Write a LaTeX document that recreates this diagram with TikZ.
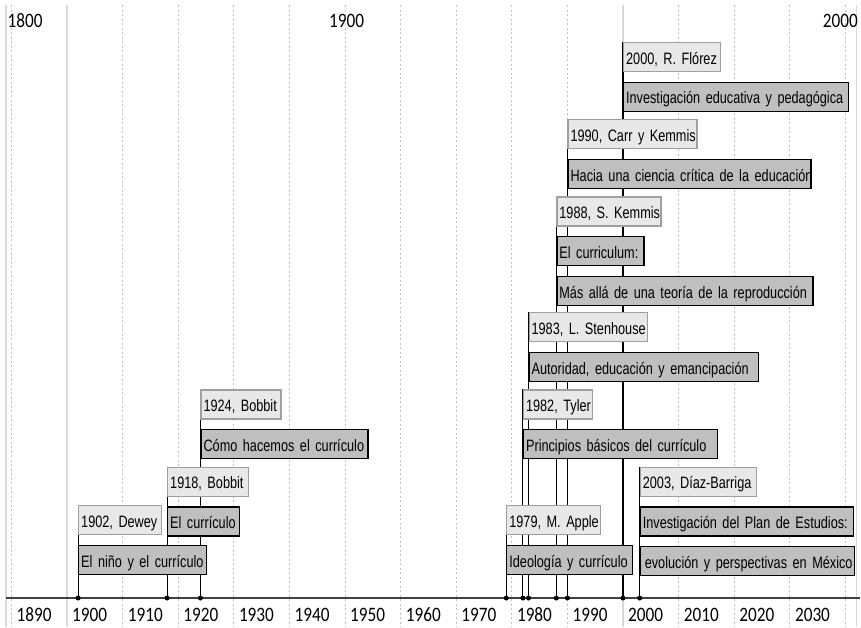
\documentclass[tikz,border=0pt]{standalone}
\usepackage{fontspec}
\newfontfamily\boxfont{Liberation Sans}[FakeStretch=0.77]
\newfontfamily\axisfont{Carlito}[FakeStretch=0.84]
\usetikzlibrary{positioning}
\pgfdeclarelayer{bg}
\pgfsetlayers{bg,main}

\begin{document}
\begin{tikzpicture}[
  x=5.56pt, y=-1pt,
  shift={(-10497pt,0pt)},
  node distance=9.6pt,
  every node/.style={font=\boxfont\fontsize{16.5}{19}\selectfont},
  gridline/.style={gray!50, dash pattern=on 2pt off 2.5pt, line width=0.9pt},
  frameline/.style={gray!30, line width=1.5pt},
  axisline/.style={black!75, line width=1.8pt},
  stem/.style={black, line width=1.1pt},
  dot/.style={circle, fill=black, inner sep=0pt, minimum size=5pt},
  who/.style={
    draw=gray!75,
    fill=gray!18,
    line width=1.2pt,
    anchor=north west,
    minimum height=29pt,
    inner xsep=2.5pt,
    inner ysep=0pt,
    text width=#1,
    align=left,
    text height=15pt,
    text depth=1pt,
    execute at begin node={\hbox\bgroup},
    execute at end node={\egroup}
  },
  book/.style={who=#1, draw=black, fill=gray!50},
  yearlbl/.style={font=\axisfont\fontsize{20.5}{24}\selectfont, inner sep=0pt}
]
\useasboundingbox (1887.95,0) rectangle (2042.8,627);

% top labels
\node[yearlbl, anchor=base west] (c1800) at (1889.3,27) {1800};
\node[yearlbl, anchor=base west] (c1900) at (1947.1,27) {1900};
\node[yearlbl, anchor=base east] (c2000) at (2042.25,27) {2000};

% authors and books
\node[who=92pt] (l2000) at (2000,42) {2000, R. Flórez};
\node[book=220pt, below=of l2000.south west, anchor=north west] (b2000) {Investigación educativa y pedagógica};

\node[who=124pt] (l1990) at (1990,119.2) {1990, Carr y Kemmis};
\node[book=238pt, below=of l1990.south west, anchor=north west] (b1990) {Hacia una ciencia crítica de la educación};

\node[who=99pt] (l1988) at (1988,196.4) {1988, S. Kemmis};
\node[book=82pt, below=of l1988.south west, anchor=north west] (b1988a) {El curriculum:};
\node[book=251pt, below=of b1988a.south west, anchor=north west] (b1988b) {Más allá de una teoría de la reproducción};

\node[who=113pt] (l1983) at (1983,312.2) {1983, L. Stenhouse};
\node[book=224pt, below=of l1983.south west, anchor=north west] (b1983) {Autoridad, educación y emancipación};

\node[who=75pt] (l1924) at (1924,389.4) {1924, Bobbit};
\node[book=162pt, below=of l1924.south west, anchor=north west] (b1924) {Cómo hacemos el currículo};

\node[who=64pt] (l1982) at (1982,389.4) {1982, Tyler};
\node[book=189pt, below=of l1982.south west, anchor=north west] (b1982) {Principios básicos del currículo};

\node[who=76pt] (l1918) at (1918,466.6) {1918, Bobbit};
\node[book=67pt, below=of l1918.south west, anchor=north west] (b1918) {El currículo};

\node[who=111pt] (l2003) at (2003,466.6) {2003, Díaz-Barriga};
\node[book=208pt, below=of l2003.south west, anchor=north west] (b2003a) {Investigación del Plan de Estudios:};
\node[book=209pt, below=of b2003a.south west, anchor=north west] (b2003b) {\hspace{2pt}evolución y perspectivas en México};

\node[who=78pt] (l1902) at (1902,505.2) {1902, Dewey};
\node[book=123pt, below=of l1902.south west, anchor=north west] (b1902) {El niño y el currículo};

\node[who=89pt] (l1979) at (1979,505.2) {1979, M. Apple};
\node[book=121pt, below=of l1979.south west, anchor=north west] (b1979) {Ideología y currículo};

% axis
\draw[axisline] (1889,598) -- (2042.6,598);
\foreach \yr in {1902,1918,1924,1979,1982,1983,1988,1990,2000,2003}
  \node[dot] (d\yr) at (\yr,598) {};
\foreach \yr in {1890,1900,...,2030}
  \node[yearlbl, anchor=base west] (y\yr) at (\yr+0.9,621) {\yr};

\begin{pgfonlayer}{bg}
\foreach \yr in {1890,1910,1920,1930,1940,1950,1960,1970,1980,1990,2010,2020,2030,2040}
  \draw[gridline] (\yr,5) -- (\yr,627);
\foreach \yr in {1889,1900,2000,2042}
  \draw[frameline] (\yr,5) -- (\yr,627);
\foreach \yr in {1902,1918,1924,1979,1982,1983,1988,1990,2000,2003}
  \draw[stem] (l\yr.north west) -- (d\yr.center);
\end{pgfonlayer}
\end{tikzpicture}
\end{document}
